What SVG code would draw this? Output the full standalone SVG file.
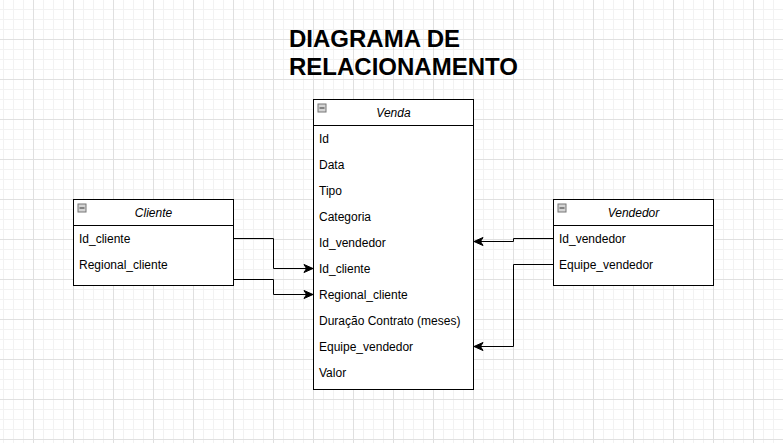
<svg xmlns="http://www.w3.org/2000/svg" width="783" height="443" viewBox="0 0 783 443">
<style>
.box{fill:#fff;stroke:#000;stroke-width:1}
.sep{stroke:#000;stroke-width:1}
.hdr{font-family:"Liberation Sans",Arial,sans-serif;font-size:12px;font-style:italic;fill:#000;text-anchor:middle}
.row{font-family:"Liberation Sans",Arial,sans-serif;font-size:12px;fill:#000}
.title{font-family:"Liberation Sans",Arial,sans-serif;font-size:24px;font-weight:bold;fill:#000}
.icon{fill:#d4d4d4;stroke:#777;stroke-width:1}
.minus{stroke:#333;stroke-width:1}
.conn{fill:none;stroke:#000;stroke-width:1}
</style>
<defs>
<pattern id="grid" patternUnits="userSpaceOnUse" x="33" y="39" width="40" height="40">
<path d="M10.5,0V40M20.5,0V40M30.5,0V40M0,10.5H40M0,20.5H40M0,30.5H40" stroke="#f2f2f2" stroke-width="1" fill="none"/>
<path d="M0.5,0V40M0,0.5H40" stroke="#e0e0e0" stroke-width="1" fill="none"/>
</pattern>
<marker id="arr" viewBox="-10 -5 11 10" refX="0" refY="0" markerWidth="11" markerHeight="10" orient="auto" markerUnits="userSpaceOnUse">
<path d="M0,0 L-9,-4 L-6.5,0 L-9,4 Z" fill="#000" stroke="#000" stroke-width="1"/>
</marker>
<g id="collapse">
<rect class="icon" x="0.5" y="0.5" width="8" height="8"/>
<path class="minus" d="M2,4.5H7"/>
</g>
</defs>
<rect width="783" height="443" fill="#fff"/>
<rect width="783" height="443" fill="url(#grid)"/>

<g id="title">
<text class="title" x="289" y="47">DIAGRAMA DE</text>
<text class="title" x="289" y="75">RELACIONAMENTO</text>
</g>

<g id="venda">
<rect class="box" x="313.5" y="99.5" width="160" height="290"/>
<line class="sep" x1="313.5" y1="125.5" x2="473.5" y2="125.5"/>
<use href="#collapse" x="317.5" y="103.5"/>
<text class="hdr" x="393.5" y="117">Venda</text>
<text class="row" x="319" y="143">Id</text>
<text class="row" x="319" y="169">Data</text>
<text class="row" x="319" y="195">Tipo</text>
<text class="row" x="319" y="221">Categoria</text>
<text class="row" x="319" y="247">Id_vendedor</text>
<text class="row" x="319" y="273">Id_cliente</text>
<text class="row" x="319" y="299">Regional_cliente</text>
<text class="row" x="319" y="325">Duração Contrato (meses)</text>
<text class="row" x="319" y="351">Equipe_vendedor</text>
<text class="row" x="319" y="377">Valor</text>
</g>

<g id="cliente">
<rect class="box" x="73.5" y="199.5" width="160" height="86"/>
<line class="sep" x1="73.5" y1="225.5" x2="233.5" y2="225.5"/>
<use href="#collapse" x="77.5" y="203.5"/>
<text class="hdr" x="153.5" y="217">Cliente</text>
<text class="row" x="79" y="243">Id_cliente</text>
<text class="row" x="79" y="269">Regional_cliente</text>
</g>

<g id="vendedor">
<rect class="box" x="553.5" y="199.5" width="160" height="86"/>
<line class="sep" x1="553.5" y1="225.5" x2="713.5" y2="225.5"/>
<use href="#collapse" x="557.5" y="203.5"/>
<text class="hdr" x="633.5" y="217">Vendedor</text>
<text class="row" x="559" y="243">Id_vendedor</text>
<text class="row" x="559" y="269">Equipe_vendedor</text>
</g>

<g id="connectors">
<path class="conn" d="M233.5,238.5H273.5V268.5H313" marker-end="url(#arr)"/>
<path class="conn" d="M233.5,279.5H273.5V294.5H313" marker-end="url(#arr)"/>
<path class="conn" d="M553.5,238.5H513.5V241.5H474" marker-end="url(#arr)"/>
<path class="conn" d="M553.5,264.5H513.5V346.5H474" marker-end="url(#arr)"/>
</g>
</svg>
